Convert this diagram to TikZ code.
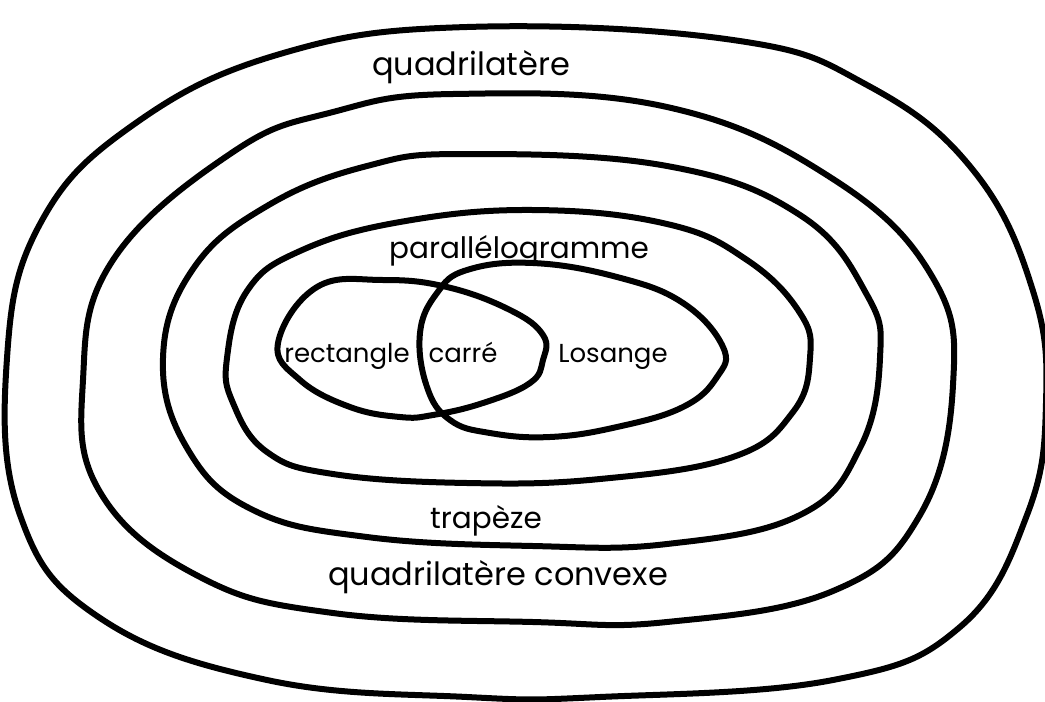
\documentclass[tikz,border=0pt]{standalone}
\usepackage{fontspec}
\setmainfont{Poppins}
\begin{document}
\begin{tikzpicture}[x=1pt,y=-1pt,
  loop/.style={line width=6pt, line join=round},
  lab/.style={font=\fontsize{26}{30}\selectfont, inner sep=0pt, anchor=base},
  bigA/.style={lab, font=\fontsize{32}{36}\selectfont},
  bigB/.style={lab, font=\fontsize{29.5}{34}\selectfont}]
\useasboundingbox (0,0) rectangle (1045,702);
\fill[white] (0,0) rectangle (1045,702);
% quadrilatere
\draw[loop] plot[smooth cycle, tension=0.7] coordinates {
 (467,27) (733,40) (867,85) (973,170) (1033,291) (1046,403) (1027,515) (960,627)
 (833,680) (600,697) (467,697) (267,680) (100,618) (20,515) (7,358) (40,224) (133,125) (280,54)};
% quadrilatere convexe
\draw[loop] plot[smooth cycle, tension=0.7] coordinates {
 (453,94) (667,107) (833,179) (933,278) (953,385) (920,515) (833,591) (667,622)
 (533,622) (333,613) (200,577) (100,492) (83,380) (113,260) (233,152) (333,112)};
% trapeze
\draw[loop] plot[smooth cycle, tension=0.7] coordinates {
 (467,154) (667,166) (800,215) (867,295) (880,358) (860,448) (800,515) (667,544)
 (533,546) (367,537) (253,510) (187,448) (163,358) (193,269) (267,206) (367,166)};
% parallelogramme
\draw[loop] plot[smooth cycle, tension=0.7] coordinates {
 (533,210) (667,224) (747,260) (800,313) (810,358) (793,412) (733,457) (600,479)
 (467,483) (333,474) (267,452) (233,403) (227,358) (247,291) (300,251) (400,222)};
% rectangle
\draw[loop] plot[smooth cycle, tension=0.7] coordinates {
 (278,343) (317,287) (383,280) (447,287) (510,310) (543,335) (543,360) (530,383)
 (483,403) (433,415) (400,417) (350,407) (300,380)};
% losange
\draw[loop] plot[smooth cycle, tension=0.7] coordinates {
 (420,333) (437,293) (467,270) (533,263) (617,277) (683,303) (723,347) (717,377)
 (683,407) (617,427) (550,437) (490,433) (450,420) (427,387)};
\node[bigA] (q)  at (471,75)  {quadrilatère};
\node[bigB] (p)  at (519,258) {parallélogramme};
\node[lab]  (r)  at (347,362) {rectangle};
\node[lab]  (c)  at (463,362) {carré};
\node[lab]  (l)  at (613,362) {Losange};
\node[bigB] (t)  at (486,528) {trapèze};
\node[bigA] (qc) at (498,585) {quadrilatère convexe};
\end{tikzpicture}
\end{document}
